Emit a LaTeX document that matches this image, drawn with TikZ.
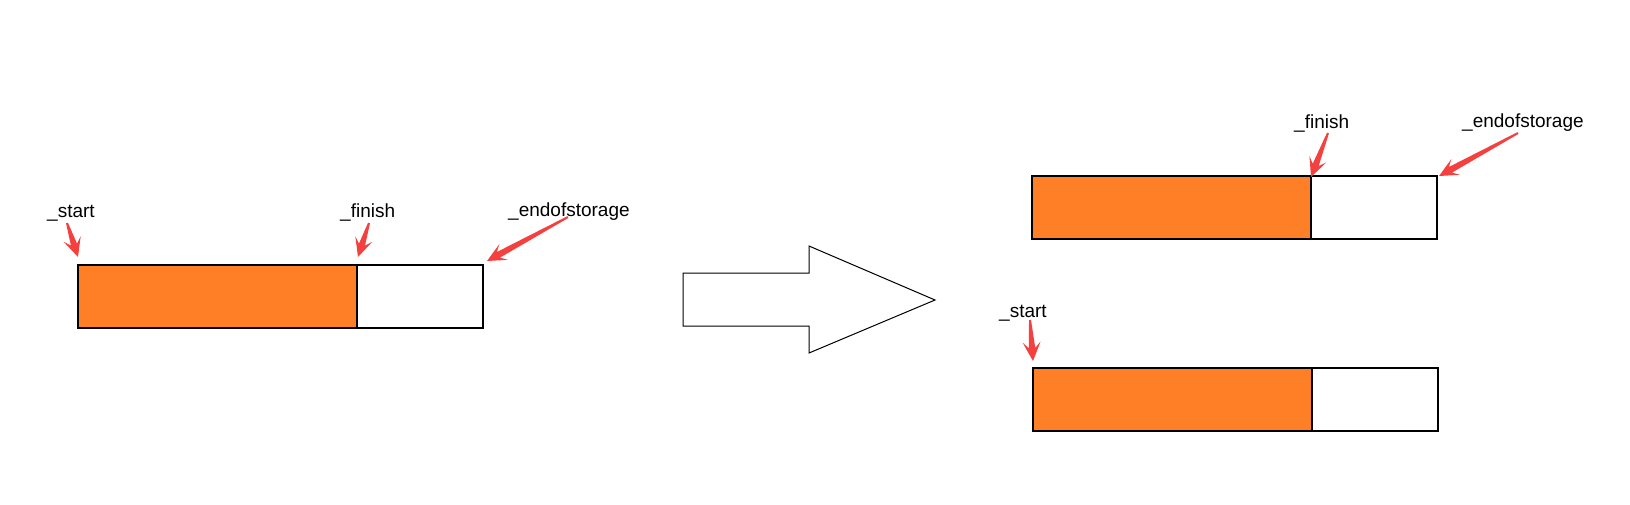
\documentclass[tikz,border=0pt]{standalone}
\usepackage{fontspec}
\setmainfont{Liberation Sans}
\usepackage{tikz}
\usetikzlibrary{calc}
\definecolor{fillorange}{HTML}{FF7F27}
\definecolor{ptrred}{HTML}{F54040}

% tapered red pointer from tail #1 to tip #2
\newcommand{\redptr}[2]{%
  \fill[ptrred] let \p1=($(#2)-(#1)$), \n1={atan2(\y1,\x1)} in
    ($(#1)+(\n1+90:1pt)$) -- ($(#2)+(\n1+180:13pt)+(\n1+90:3.2pt)$) -- ($(#2)+(\n1+180:19pt)+(\n1+90:9pt)$) -- (#2)
    -- ($(#2)+(\n1+180:19pt)+(\n1-90:9pt)$) -- ($(#2)+(\n1+180:13pt)+(\n1-90:3.2pt)$) -- ($(#1)+(\n1-90:1pt)$) -- cycle;}

\begin{document}
\begin{tikzpicture}[x=1pt, y=-1pt,
    used/.style={rectangle, draw=black, line width=1.3pt, fill=fillorange, inner sep=0pt, outer sep=0pt, minimum width=279pt, minimum height=63pt, anchor=north west},
    free/.style={rectangle, draw=black, line width=1.3pt, fill=white, inner sep=0pt, outer sep=0pt, minimum width=126pt, minimum height=63pt, anchor=north west},
    ptrlabel/.style={anchor=base west, inner sep=0pt, font=\fontsize{19}{22}\selectfont}
  ]
    \useasboundingbox (0,0) rectangle (1630,504);

    % Before
    \node[used] (b-used) at (78,265) {};
    \node[free] (b-free) at (b-used.north east) {};
    \node[ptrlabel] (b-start) at (47,217) {\_start};
    \node[ptrlabel] (b-finish) at (340,217) {\_finish};
    \node[ptrlabel] (b-end) at (508,216) {\_endofstorage};
    \coordinate (b-start-t) at ($(b-start.base west)+(20,6)$);
    \coordinate (b-start-h) at ($(b-used.north west)+(0,-8)$);
    \coordinate (b-finish-t) at ($(b-finish.base west)+(29,6)$);
    \coordinate (b-finish-h) at ($(b-free.north west)+(1,-8)$);
    \coordinate (b-end-t) at ($(b-end.base west)+(60,1)$);
    \coordinate (b-end-h) at ($(b-free.north east)+(4,-4)$);
    \redptr{b-start-t}{b-start-h}
    \redptr{b-finish-t}{b-finish-h}
    \redptr{b-end-t}{b-end-h}

    % Big arrow
    \draw[line width=1pt, fill=white] (683,273) -- (809,273) -- (809,246) -- (935,300) -- (809,353) -- (809,326) -- (683,326) -- cycle;

    % After: old storage
    \node[used] (a-used) at (1032,176) {};
    \node[free] (a-free) at (a-used.north east) {};
    \node[ptrlabel] (a-finish) at (1294,128) {\_finish};
    \node[ptrlabel] (a-end) at (1462,127) {\_endofstorage};
    \coordinate (a-finish-t) at ($(a-finish.base west)+(34,5)$);
    \coordinate (a-finish-h) at ($(a-free.north west)+(0,1)$);
    \coordinate (a-end-t) at ($(a-end.base west)+(56,6)$);
    \coordinate (a-end-h) at ($(a-free.north east)+(2,0)$);
    \redptr{a-finish-t}{a-finish-h}
    \redptr{a-end-t}{a-end-h}

    % After: new storage
    \node[used] (n-used) at (1033,368) {};
    \node[free] (n-free) at (n-used.north east) {};
    \node[ptrlabel] (n-start) at (999,317) {\_start};
    \coordinate (n-start-t) at ($(n-start.base west)+(31,3)$);
    \coordinate (n-start-h) at ($(n-used.north west)+(0,-7)$);
    \redptr{n-start-t}{n-start-h}
  \end{tikzpicture}
\end{document}
